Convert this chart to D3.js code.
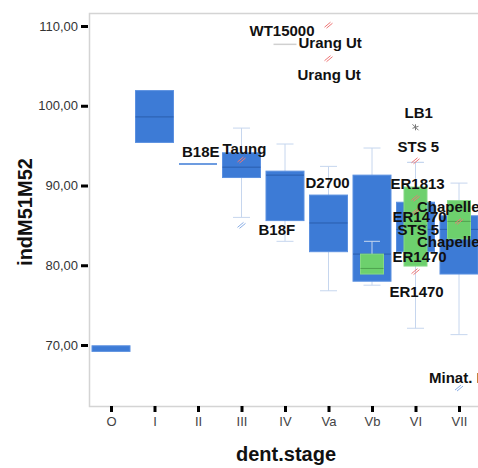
<!DOCTYPE html>
<html><head><meta charset="utf-8">
<script src="https://cdn.jsdelivr.net/npm/d3@7"></script>
<style>
html,body{margin:0;padding:0;background:#fff;}
svg{display:block;font-family:"Liberation Sans",Arial,sans-serif;}
</style></head>
<body><svg id="c" width="478" height="468"></svg>
<script>
// ---- data ----
const stages = ["O","I","II","III","IV","Va","Vb","VI","VII"];
const yTicks = [70,80,90,100,110];
// blue series boxes: [stage, whiskerLow, q1, median, q3, whiskerHigh] (null = none)
const blueBoxes = [
  ["O",   null, 69.2, null, 69.9, null],
  ["I",   null, 95.4, 98.6, 101.9, null],
  ["II",  null, 92.7, 92.7, 92.7, null],
  ["III", 86.0, 91.0, 92.3, 94.1, 97.2],
  ["IV",  83.0, 85.6, 91.3, 91.8, 95.2],
  ["Va",  76.8, 81.7, 85.3, 88.8, 92.4],
  ["Vb",  77.5, 78.0, 81.4, 91.3, 94.7],
  ["VI",  72.1, 81.7, 84.5, 87.9, 92.9],
  ["VII", 71.3, 78.9, 84.5, 86.2, 90.3]
];
// green series boxes
const greenBoxes = [
  ["IV",  null, 107.7, 107.7, 107.7, null],
  ["Vb",  null, 78.9, 79.6, 81.4, 83.0],
  ["VI",  null, 79.9, 85.0, 89.8, 92.9],
  ["VII", null, 83.3, 85.5, 88.1, null]
];
// outlier markers: [stage, value, kind]
const outliers = [
  ["Va", 110.1, "red"],
  ["Va", 105.9, "red"],
  ["III", 93.2, "red"],
  ["III", 85.0, "blue"],
  ["VI", 97.3, "gray"],
  ["VI", 93.1, "red"],
  ["VI", 88.4, "red"],
  ["VI", 86.7, "red"],
  ["VI", 79.2, "red"],
  ["VII", 85.5, "red"],
  ["VII", 64.6, "blue"]
];
// case labels: [text, stage, value at label centre]
const caseLabels = [
  ["WT15000", "Va", 109.41],
  ["Urang Ut", "Va", 107.87],
  ["Urang Ut", "Va", 103.86],
  ["Taung", "III", 94.58],
  ["B18E", "II", 94.20],
  ["B18F", "III", 84.42],
  ["D2700", "Va", 90.35],
  ["LB1", "VI", 99.09],
  ["STS 5", "VI", 94.86],
  ["ER1813", "VI", 90.28],
  ["Chapelle", "VII", 87.34],
  ["ER1470", "VI", 86.09],
  ["STS 5", "VI", 84.42],
  ["Chapelle", "VII", 82.95],
  ["ER1470", "VI", 81.07],
  ["ER1470", "VI", 76.68],
  ["Minat. I", "VII", 65.86]
];
// horizontal offsets of label start from category centre (layout)
const labelDx = [-79,-30,-31,-19,-16,17,-23,-11,-18,-25,-42,-23,-18,-42,-23,-26,-30];

// ---- drawing ----
const svg = d3.select("#c");
const x = d3.scalePoint().domain(stages).range([111, 459]);
const y = d3.scaleLinear().domain([70,110]).range([345, 26]);
const fmt = v => d3.format(".2f")(v).replace(".", ",");

// frame
svg.append("path").attr("d","M520,13.5 H89.5 V406.5 H520")
  .attr("fill","none").attr("stroke","#d4d4d4").attr("stroke-width",1.5);

// y axis
const ya = svg.append("g").attr("transform","translate(88,0)")
  .call(d3.axisLeft(y).tickValues(yTicks).tickFormat(fmt).tickSize(7).tickPadding(3));
ya.select(".domain").remove();
ya.selectAll(".tick line").attr("stroke","#000").attr("stroke-width",3);
ya.selectAll(".tick text").attr("font-size",13).attr("fill","#333")
  .attr("font-family","Liberation Sans, Arial, sans-serif");

// x axis
const xa = svg.append("g").attr("transform","translate(0,406)")
  .call(d3.axisBottom(x).tickSize(6).tickPadding(5));
xa.select(".domain").remove();
xa.selectAll(".tick line").attr("stroke","#000").attr("stroke-width",3);
xa.selectAll(".tick text").attr("font-size",13).attr("fill","#444")
  .attr("font-family","Liberation Sans, Arial, sans-serif");

// titles
svg.append("text").attr("x",286).attr("y",461).attr("text-anchor","middle")
  .attr("font-size",20).attr("font-weight","bold").attr("fill","#111").text("dent.stage");
svg.append("text").attr("transform","translate(32,212) rotate(-90)").attr("text-anchor","middle")
  .attr("font-size",20).attr("font-weight","bold").attr("fill","#111").text("indM51M52");

function drawBoxes(data, w, capW, fill, stroke, medColor, degColor){
  const g = svg.append("g");
  data.forEach(([s, wl, q1, med, q3, wh]) => {
    const cx = x(s);
    const wc = "#c6d6ee";
    if (wh != null) {
      g.append("line").attr("x1",cx).attr("x2",cx).attr("y1",y(wh)).attr("y2",y(q3)).attr("stroke",wc);
      g.append("line").attr("x1",cx-capW/2).attr("x2",cx+capW/2).attr("y1",y(wh)).attr("y2",y(wh)).attr("stroke",wc);
    }
    if (wl != null) {
      g.append("line").attr("x1",cx).attr("x2",cx).attr("y1",y(q1)).attr("y2",y(wl)).attr("stroke",wc);
      g.append("line").attr("x1",cx-capW/2).attr("x2",cx+capW/2).attr("y1",y(wl)).attr("y2",y(wl)).attr("stroke",wc);
    }
    if (q1 === q3) {
      g.append("line").attr("x1",cx-w/2).attr("x2",cx+w/2).attr("y1",y(q1)).attr("y2",y(q1))
        .attr("stroke",degColor).attr("stroke-width",1.5);
    } else {
      g.append("rect").attr("x",cx-w/2).attr("width",w).attr("y",y(q3)).attr("height",y(q1)-y(q3))
        .attr("fill",fill).attr("stroke",stroke).attr("stroke-width",1);
      if (med != null)
        g.append("line").attr("x1",cx-w/2).attr("x2",cx+w/2).attr("y1",y(med)).attr("y2",y(med))
          .attr("stroke",medColor).attr("stroke-width",1);
    }
  });
}
drawBoxes(blueBoxes, 38, 17, "#3d7bd6", "#5b90e0", "#2a5dad", "#3d7bd6");
drawBoxes(greenBoxes, 23, 16, "#6dd06d", "#86d986", "#4fa24f", "#d0d0d0");

// outlier markers
const mg = svg.append("g");
const kindColor = {red:"#ee7777", blue:"#8aaee6", gray:"#777"};
outliers.forEach(([s, v, k]) => {
  const cx = x(s), cy = y(v);
  const p = k === "gray"
    ? "M-3,-3 L3,3 M-3,1 L3,-1 M0,-3 L0,3"
    : "M-4,2 L2,-3 M-2,3 L4,-2";
  mg.append("path").attr("transform",`translate(${cx},${cy})`).attr("d",p)
    .attr("stroke",kindColor[k]).attr("stroke-width",1).attr("fill","none");
});

// case labels
const lg = svg.append("g");
caseLabels.forEach(([t, s, v], i) => {
  lg.append("text").attr("x", x(s) + labelDx[i]).attr("y", y(v)).attr("dy","0.35em")
    .attr("font-size",15).attr("font-weight","bold").attr("fill","#111").text(t);
});
</script></body></html>
